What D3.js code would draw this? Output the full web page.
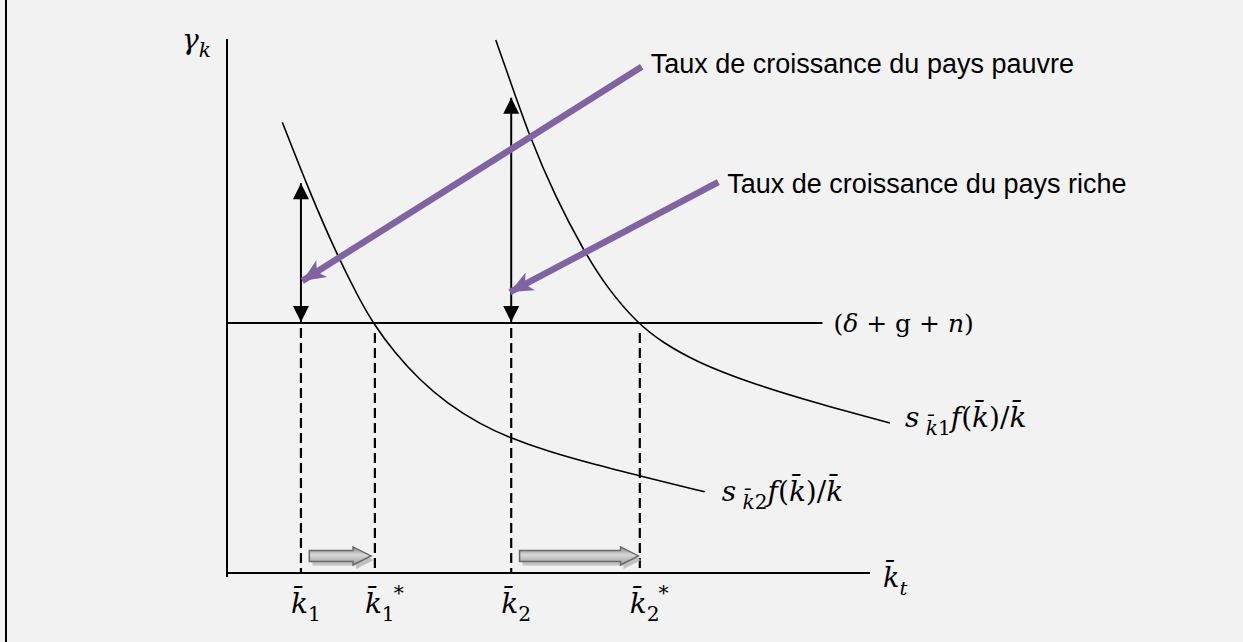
<!DOCTYPE html>
<html>
<head>
<meta charset="utf-8">
<script src="https://cdn.jsdelivr.net/npm/d3@7"></script>
<style>
  html, body { margin: 0; padding: 0; background: #f2f2f2; }
  svg { display: block; }
</style>
</head>
<body>
<div id="vis"></div>
<script>
// data (x: capital stock, y: growth rate, both on a 0-100 scale)
let kPoints = [11.5, 23, 44.2, 64.2];            // k1, k1*, k2, k2*
let kNames  = ['1', '1', '2', '2'];
let kStars  = [false, true, false, true];
let levelY  = 46.8;                               // (delta + g + n)

let lowerX = [8.6, 12.9, 17.1, 20.4, 22.7, 26.1, 30.0, 34.2, 39.3, 44.0, 49.8, 57.5, 64.2, 74.3];
let lowerY = [84.4, 71.2, 59.6, 51.7, 46.8, 41.2, 36.1, 31.8, 27.9, 25.3, 22.8, 20.2, 18.2, 15.2];

let upperX = [41.8, 44.0, 47.1, 51.0, 55.4, 59.1, 63.8, 67.8, 73.1, 80.9, 91.1, 103.1];
let upperY = [99.8, 92.3, 81.6, 70.6, 60.5, 53.4, 46.8, 43.1, 39.5, 35.8, 32.0, 28.1];

// vertical growth-rate arrows: top of each arrow (poor, rich)
let gapTops = [73.0, 89.0];

// purple pointers [x0, y0, x1, y1]
let pointerPoor = [64.5, 94.8, 11.7, 54.7];
let pointerRich = [76.4, 73.2, 44.0, 52.6];

// grey convergence arrows: from k_i to k_i*
let moveFrom = [12.8, 45.5];
let moveTo   = [22.4, 64.0];
let moveY    = 3.2;

let width = 1243, height = 642;

let svg = d3.select('#vis')
  .append('svg')
    .attr('width', width)
    .attr('height', height)
    .attr('viewBox', [0, 0, width, height].join(' '))
    .style('background-color', '#f2f2f2');

let x = d3.scaleLinear().domain([0, 100]).range([227, 870]);
let y = d3.scaleLinear().domain([0, 100]).range([573, 39]);

let defs = svg.append('defs');

defs.append('marker')
    .attr('id', 'blackHead')
    .attr('markerUnits', 'userSpaceOnUse')
    .attr('viewBox', '-17 -9 18 18')
    .attr('refX', 0).attr('refY', 0)
    .attr('markerWidth', 18).attr('markerHeight', 18)
    .attr('orient', 'auto-start-reverse')
  .append('path')
    .attr('d', 'M0,0 L-16,-8 L-16,8 Z')
    .attr('fill', '#000');

defs.append('marker')
    .attr('id', 'purpleHead')
    .attr('markerUnits', 'userSpaceOnUse')
    .attr('viewBox', '-24 -11 25 22')
    .attr('refX', 0).attr('refY', 0)
    .attr('markerWidth', 25).attr('markerHeight', 22)
    .attr('orient', 'auto')
  .append('path')
    .attr('d', 'M0,0 L-23,-10 L-17,0 L-23,10 Z')
    .attr('fill', '#8064a2');

let grad = defs.append('linearGradient')
    .attr('id', 'greyGrad')
    .attr('x1', 0).attr('y1', 0).attr('x2', 0).attr('y2', 1);
grad.append('stop').attr('offset', '0%').attr('stop-color', '#8a8a8a');
grad.append('stop').attr('offset', '45%').attr('stop-color', '#d8d8d8');
grad.append('stop').attr('offset', '100%').attr('stop-color', '#9a9a9a');

// frame line on the left
svg.append('line')
    .attr('x1', 6).attr('x2', 6)
    .attr('y1', 0).attr('y2', height)
    .attr('stroke', '#000')
    .attr('stroke-width', 2);

// axes
svg.append('line')
    .attr('x1', x(0)).attr('x2', x(0))
    .attr('y1', y(100)).attr('y2', y(0) + 4)
    .attr('stroke', '#000').attr('stroke-width', 2);
svg.append('line')
    .attr('x1', x(0)).attr('x2', x(100))
    .attr('y1', y(0)).attr('y2', y(0))
    .attr('stroke', '#000').attr('stroke-width', 2);

// depreciation line
svg.append('line')
    .attr('x1', x(0)).attr('x2', x(92.6))
    .attr('y1', y(levelY)).attr('y2', y(levelY))
    .attr('stroke', '#000').attr('stroke-width', 2);

// dashed drop lines
svg.selectAll('.drop')
  .data(kPoints)
  .join('line')
    .attr('class', 'drop')
    .attr('x1', d => x(d)).attr('x2', d => x(d))
    .attr('y1', (d, i) => y(levelY) + (kStars[i] ? 10 : 5))
    .attr('y2', y(0))
    .attr('stroke', '#000')
    .attr('stroke-width', 2.2)
    .attr('stroke-dasharray', '10,5');

// curves
let line = d3.line()
  .x(d => x(d[0]))
  .y(d => y(d[1]))
  .curve(d3.curveBasis);

svg.append('path')
    .datum(d3.zip(lowerX, lowerY))
    .attr('d', line)
    .attr('fill', 'none')
    .attr('stroke', '#000')
    .attr('stroke-width', 1.6);

svg.append('path')
    .datum(d3.zip(upperX, upperY))
    .attr('d', line)
    .attr('fill', 'none')
    .attr('stroke', '#000')
    .attr('stroke-width', 1.6);

// vertical double arrows (growth gaps)
svg.selectAll('.gap')
  .data([kPoints[0], kPoints[2]])
  .join('line')
    .attr('class', 'gap')
    .attr('x1', d => x(d)).attr('x2', d => x(d))
    .attr('y1', (d, i) => y(gapTops[i]))
    .attr('y2', y(levelY) - 1)
    .attr('stroke', '#000')
    .attr('stroke-width', 2)
    .attr('marker-start', 'url(#blackHead)')
    .attr('marker-end', 'url(#blackHead)');

// purple pointers
svg.selectAll('.pointer')
  .data([pointerPoor, pointerRich])
  .join('line')
    .attr('class', 'pointer')
    .attr('x1', d => x(d[0])).attr('y1', d => y(d[1]))
    .attr('x2', d => x(d[2])).attr('y2', d => y(d[3]))
    .attr('stroke', '#8064a2')
    .attr('stroke-width', 6.5)
    .attr('marker-end', 'url(#purpleHead)');

// grey block arrows
function blockArrow(x0, x1, yc) {
  let s = 5.5, h = 9, hl = 18;
  return 'M' + x0 + ',' + (yc - s) +
    'L' + (x1 - hl) + ',' + (yc - s) +
    'L' + (x1 - hl) + ',' + (yc - h) +
    'L' + x1 + ',' + yc +
    'L' + (x1 - hl) + ',' + (yc + h) +
    'L' + (x1 - hl) + ',' + (yc + s) +
    'L' + x0 + ',' + (yc + s) + 'Z';
}
let moves = d3.zip(moveFrom, moveTo);
svg.selectAll('.moveShadow')
  .data(moves)
  .join('path')
    .attr('class', 'moveShadow')
    .attr('d', d => blockArrow(x(d[0]) + 3, x(d[1]) + 3, y(moveY) + 4))
    .attr('fill', '#b4b4b4')
    .attr('opacity', 0.8);
svg.selectAll('.move')
  .data(moves)
  .join('path')
    .attr('class', 'move')
    .attr('d', d => blockArrow(x(d[0]), x(d[1]), y(moveY)))
    .attr('fill', 'url(#greyGrad)')
    .attr('stroke', '#6a6a6a')
    .attr('stroke-width', 1.5);

// ---- text ----
let mathFont = "'DejaVu Serif', serif";
let kb = 'k\u0304';

// write a little formula from parts: [text, italic, sub, sup]
function mathText(px, py, parts, size) {
  let t = svg.append('text')
    .attr('x', px).attr('y', py)
    .attr('font-family', mathFont)
    .attr('font-size', size)
    .attr('fill', '#000');
  let shift = 0;
  parts.forEach(p => {
    let target = p.sub ? size * 0.28 : (p.sup ? -size * 0.45 : 0);
    t.append('tspan')
      .attr('dy', target - shift)
      .attr('dx', p.dx || 0)
      .attr('font-style', p.it ? 'italic' : 'normal')
      .attr('font-size', (p.sub || p.sup) ? size * 0.72 : size)
      .text(p.t);
    shift = target;
  });
  return t;
}

mathText(182, 49, [{t: '\u03b3', it: true}, {t: 'k', it: true, sub: true}], 28);

mathText(x(100) + 13, y(0) + 14, [{t: kb, it: true}, {t: 't', it: true, sub: true}], 27);

mathText(x(92.6) + 11, y(levelY) + 9,
  [{t: '(', it: false}, {t: '\u03b4', it: true}, {t: ' + g + ', it: false}, {t: 'n', it: true}, {t: ')', it: false}], 25);

let curveLabel = [{t: 's', it: true}, {t: ' ' + kb, it: true, sub: true}, {t: '1', sub: true},
  {t: 'f', it: true}, {t: '(', it: false}, {t: kb, it: true}, {t: ')/', it: false}, {t: kb, it: true}];
mathText(x(upperX[upperX.length - 1]) + 15, y(upperY[upperY.length - 1]) + 4, curveLabel, 28);

let curveLabel2 = curveLabel.map(p => p.t === '1' ? {t: '2', sub: true} : p);
mathText(x(lowerX[lowerX.length - 1]) + 17, y(lowerY[lowerY.length - 1]) + 9, curveLabel2, 28);

kPoints.forEach((k, i) => {
  let parts = [{t: kb, it: true}, {t: kNames[i], sub: true}];
  if (kStars[i]) parts.push({t: '*', sup: true, dx: -1});
  mathText(x(k) - 10, y(0) + 40, parts, 28);
});

svg.append('text')
    .attr('x', x(pointerPoor[0]) + 9)
    .attr('y', y(pointerPoor[1]) + 6)
    .attr('font-family', "'Liberation Sans', Arial, sans-serif")
    .attr('font-size', 27)
    .attr('fill', '#000')
    .text('Taux de croissance du pays pauvre');

svg.append('text')
    .attr('x', x(pointerRich[0]) + 9)
    .attr('y', y(pointerRich[1]) + 11)
    .attr('font-family', "'Liberation Sans', Arial, sans-serif")
    .attr('font-size', 27)
    .attr('fill', '#000')
    .text('Taux de croissance du pays riche');
</script>
</body>
</html>
